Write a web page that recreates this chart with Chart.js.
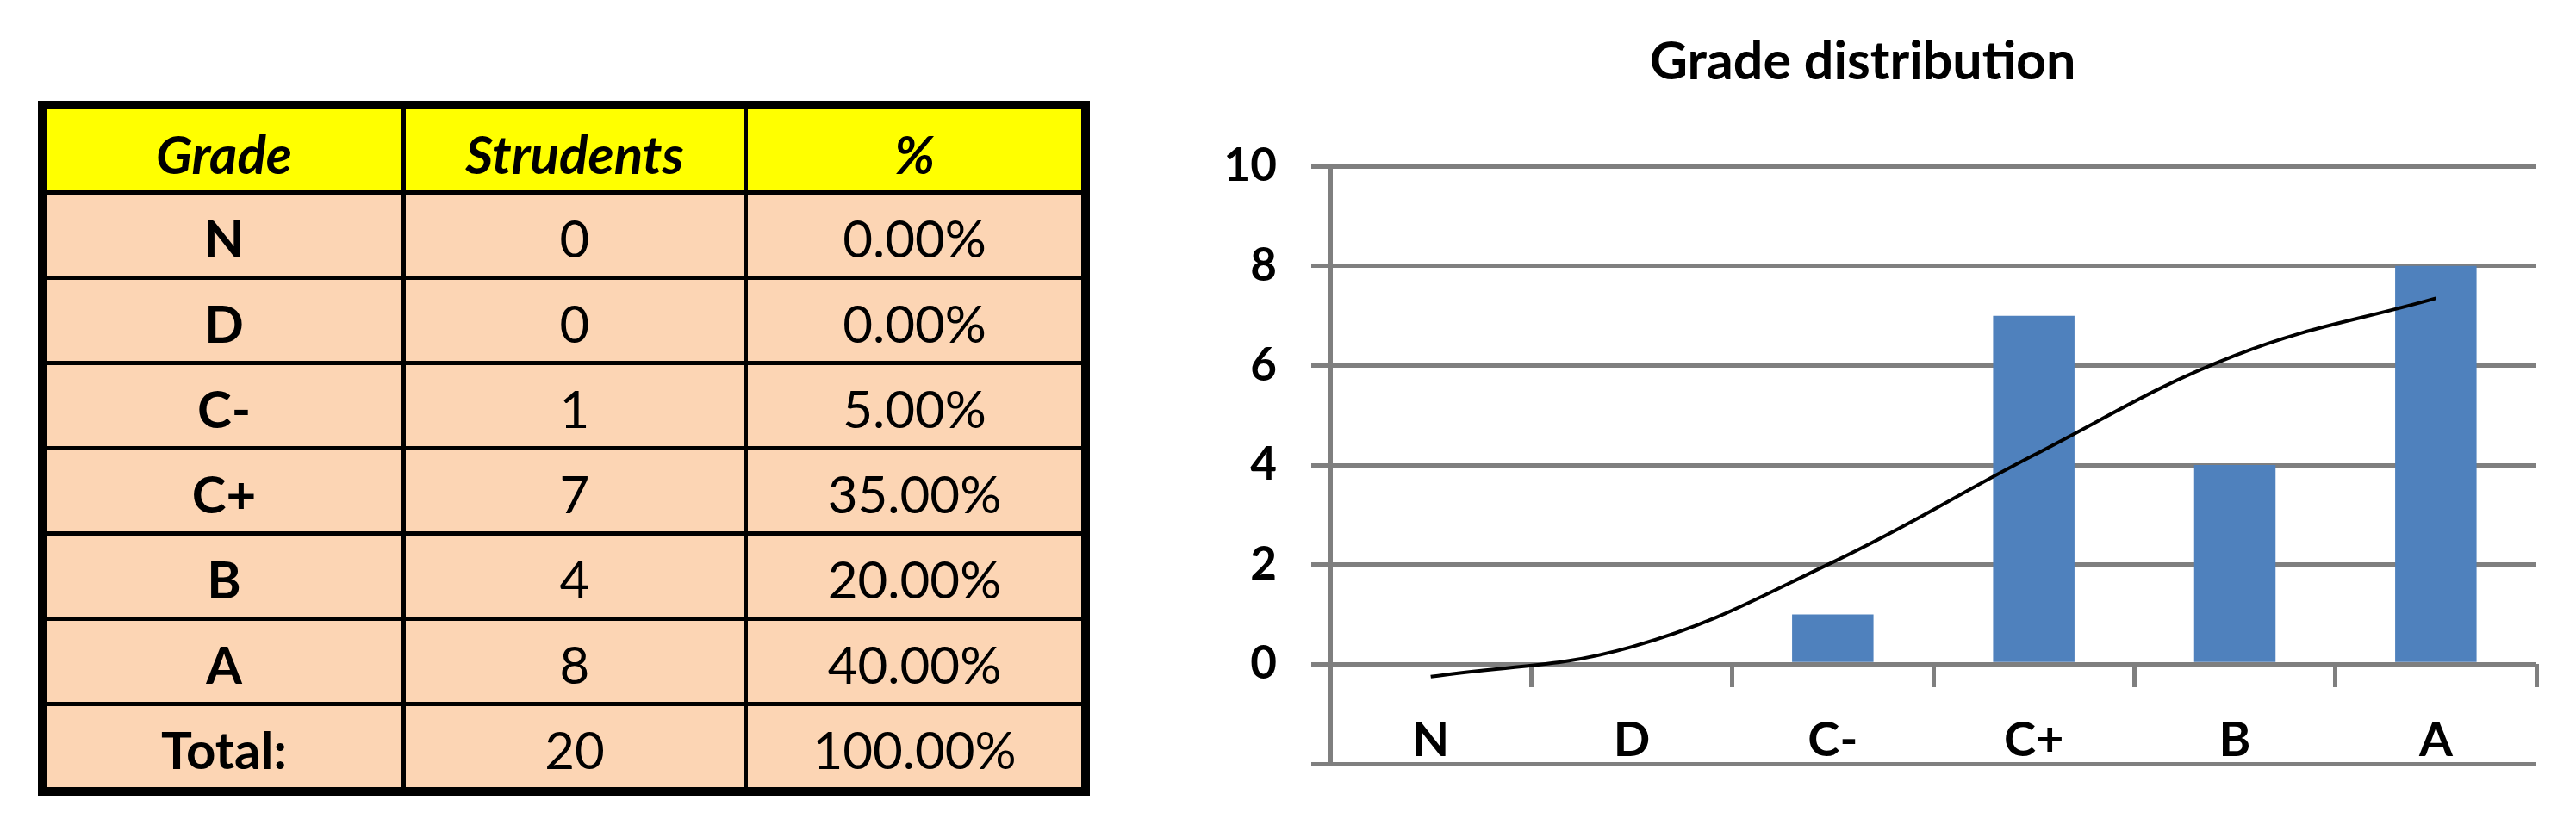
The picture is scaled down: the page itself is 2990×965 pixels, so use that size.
<!DOCTYPE html>
<html lang="en">
<head>
    <meta charset="UTF-8">
    <title>Grade distribution</title>
    <script src="https://cdn.jsdelivr.net/npm/chart.js"></script>
    <style>
        html, body { margin: 0; padding: 0; background: #fff; }
        body { width: 2990px; height: 965px; position: relative; overflow: hidden; font-family: Lato, sans-serif; }
        #gradeTable {
            position: absolute; left: 44px; top: 117px;
            border: 10px solid #000; background: #000;
            display: grid;
            grid-template-columns: 412px 392px 387px;
            grid-auto-rows: 94px;
            column-gap: 5px; row-gap: 5px;
        }
        #gradeTable div {
            display: flex; align-items: center; justify-content: center;
            background: #fcd5b4; color: #000; font-size: 60px; padding-top: 6px; box-sizing: border-box;
        }
        #gradeTable div.head { background: #ffff00; font-weight: bold; font-style: italic; font-size: 62px; padding-top: 8px; }
        #gradeTable div.bold { font-weight: bold; }
        #chartBox { position: absolute; left: 1380px; top: 0; width: 1578px; height: 965px; }
    </style>
</head>
<body>
    <div id="gradeTable"></div>
    <div id="chartBox"><canvas id="myChart"></canvas></div>
    <script>

const headers = ['Grade', 'Strudents', '%'];
const grades = ['N', 'D', 'C-', 'C+', 'B', 'A'];
const students = [0, 0, 1, 7, 4, 8];
const percents = ['0.00%', '0.00%', '5.00%', '35.00%', '20.00%', '40.00%'];
const totalRow = ['Total:', '20', '100.00%'];
// trendline at each grade
const trend = [-0.25, 0.35, 2.05, 4.2, 6.2, 7.35];
const yMin = -2, yMax = 10, yStep = 2;

// table
const table = document.getElementById('gradeTable');
function addCell(text, cls) {
    const d = document.createElement('div');
    d.textContent = text;
    if (cls) d.className = cls;
    table.appendChild(d);
}
headers.forEach(h => addCell(h, 'head'));
grades.forEach((g, i) => {
    addCell(g, 'bold');
    addCell(String(students[i]));
    addCell(percents[i]);
});
addCell(totalRow[0], 'bold');
addCell(totalRow[1]);
addCell(totalRow[2]);

// chart
const gridGrey = '#7f7f7f';
const ctx = document.getElementById('myChart').getContext('2d');
const myChart = new Chart(ctx, {
    type: 'bar',
    data: {
        labels: grades,
        datasets: [{
            type: 'line',
            data: trend,
            borderColor: '#000',
            borderWidth: 4,
            pointRadius: 0,
            tension: 0.4,
            fill: false,
            order: 0
        }, {
            data: students,
            backgroundColor: '#4f81bd',
            categoryPercentage: 1,
            barPercentage: 0.405,
            order: 1
        }]
    },
    options: {
        responsive: true,
        maintainAspectRatio: false,
        animation: false,
        layout: { padding: { left: 0, right: 14, top: 0, bottom: 78 } },
        plugins: {
            legend: { display: false },
            tooltip: { enabled: false },
            title: {
                display: true,
                text: 'Grade distribution',
                color: '#000',
                font: { family: 'Lato', size: 61, weight: 'bold', lineHeight: 1.2 },
                padding: { top: 36, bottom: 84 }
            }
        },
        scales: {
            x: {
                position: { y: 0 },
                afterFit: s => { s.height = 0; },
                grid: { drawOnChartArea: false, drawTicks: true, tickLength: 27, color: gridGrey, lineWidth: 5, offset: true },
                border: { display: false },
                ticks: { color: '#000', font: { family: 'Lato', size: 56, weight: 'bold' }, padding: 28 }
            },
            y: {
                min: yMin,
                max: yMax,
                afterFit: s => { s.width = 164; },
                grid: { color: gridGrey, lineWidth: 5, drawTicks: true, tickLength: 22 },
                border: { color: gridGrey, width: 5 },
                ticks: {
                    stepSize: yStep,
                    color: '#000',
                    padding: 40,
                    font: { family: 'Lato', size: 53, weight: 'bold' },
                    callback: v => (v === yMin ? '' : v)
                }
            }
        }
    }
});
    </script>
</body>
</html>
